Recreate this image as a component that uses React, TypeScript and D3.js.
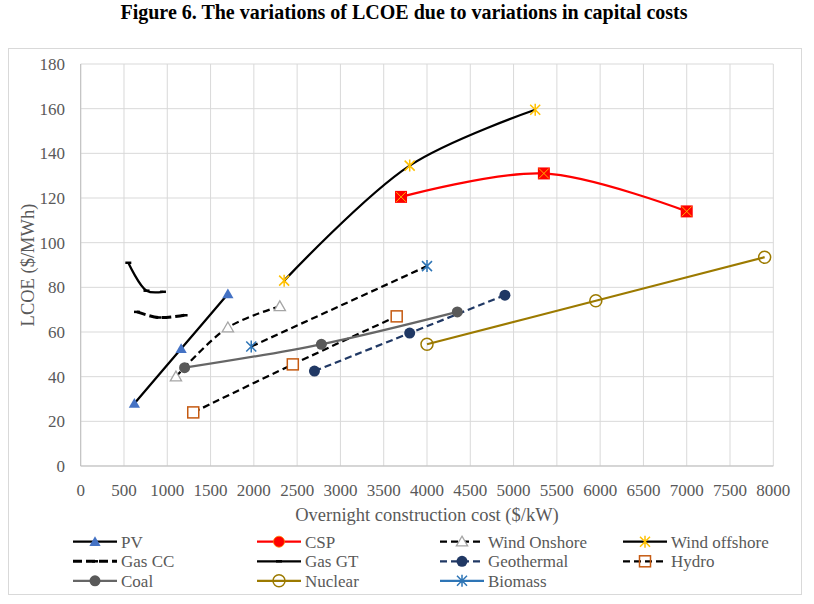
import * as d3 from 'd3'

// values: overnight cost ($/kW) vs LCOE ($/MWh)
const PV_COST = [620, 1160, 1700]
const PV_LCOE = [28, 52.5, 77]
const CSP_COST = [3700, 5350, 7000]
const CSP_LCOE = [120.5, 131, 114]
const WIND_ON_COST = [1100, 1700, 2300]
const WIND_ON_LCOE = [40, 62, 71.5]
const WIND_OFF_COST = [2350, 3800, 5250]
const WIND_OFF_LCOE = [83, 134.5, 159.5]
const GAS_CC_COST = [650, 900, 1200]
const GAS_CC_LCOE = [69, 66.5, 67.5]
const GAS_GT_COST = [550, 760, 950]
const GAS_GT_LCOE = [91, 78.5, 78]
const GEO_COST = [2700, 3800, 4900]
const GEO_LCOE = [42.5, 59.5, 76.5]
const HYDRO_COST = [1300, 2450, 3650]
const HYDRO_LCOE = [24, 45.5, 67]
const COAL_COST = [1200, 2780, 4350]
const COAL_LCOE = [44, 54.5, 69]
const NUC_COST = [4000, 5950, 7900]
const NUC_LCOE = [54.5, 74, 93.5]
const BIO_COST = [1970, 4000]
const BIO_LCOE = [53.5, 89.5]

const X_TICKS = d3.range(0, 8001, 500)
const Y_TICKS = d3.range(0, 181, 20)

type Marker = 'triangle' | 'openTriangle' | 'csp' | 'star' | 'dash' | 'dot' | 'openSquare' | 'openCircle'

interface Series {
  name: string
  cost: number[]
  lcoe: number[]
  stroke: string
  dash?: string
  width: number
  marker: Marker
  mColor: string
  legendStroke?: string
  legendDash?: string
}

const SERIES: Series[] = [
  { name: 'PV', cost: PV_COST, lcoe: PV_LCOE, stroke: '#000', width: 2.25, marker: 'triangle', mColor: '#4472C4' },
  { name: 'CSP', cost: CSP_COST, lcoe: CSP_LCOE, stroke: '#FF0000', width: 2.25, marker: 'csp', mColor: '#FF0000' },
  { name: 'Wind Onshore', cost: WIND_ON_COST, lcoe: WIND_ON_LCOE, stroke: '#000', dash: '7,4', width: 2.25, marker: 'openTriangle', mColor: '#A5A5A5' },
  { name: 'Wind offshore', cost: WIND_OFF_COST, lcoe: WIND_OFF_LCOE, stroke: '#000', width: 2.25, marker: 'star', mColor: '#FFC000' },
  { name: 'Gas CC', cost: GAS_CC_COST, lcoe: GAS_CC_LCOE, stroke: '#000', dash: '9,4', width: 3, marker: 'dash', mColor: '#000' },
  { name: 'Gas GT', cost: GAS_GT_COST, lcoe: GAS_GT_LCOE, stroke: '#000', width: 2.25, marker: 'dash', mColor: '#000' },
  { name: 'Geothermal', cost: GEO_COST, lcoe: GEO_LCOE, stroke: '#203864', dash: '7,4', width: 2.25, marker: 'dot', mColor: '#203864' },
  { name: 'Hydro', cost: HYDRO_COST, lcoe: HYDRO_LCOE, stroke: '#000', dash: '7,4', width: 2.25, marker: 'openSquare', mColor: '#C55A11' },
  { name: 'Coal', cost: COAL_COST, lcoe: COAL_LCOE, stroke: '#666666', width: 2.25, marker: 'dot', mColor: '#595959' },
  { name: 'Nuclear', cost: NUC_COST, lcoe: NUC_LCOE, stroke: '#9C7A00', width: 2.25, marker: 'openCircle', mColor: '#9C7A00' },
  { name: 'Biomass', cost: BIO_COST, lcoe: BIO_LCOE, stroke: '#000', dash: '7,4', width: 2.25, marker: 'star', mColor: '#2E75B6', legendStroke: '#2E75B6', legendDash: 'none' },
]

const FONT = "'Liberation Serif', 'Times New Roman', serif"
const TXT = '#595959'

function MarkerShape({ kind, x, y, color, legend }: { kind: Marker; x: number; y: number; color: string; legend?: boolean }) {
  switch (kind) {
    case 'triangle':
      return <path d={d3.symbol(d3.symbolTriangle, 55)()!} transform={`translate(${x},${y + 1})`} fill={color} />
    case 'openTriangle':
      return <path d={d3.symbol(d3.symbolTriangle, 55)()!} transform={`translate(${x},${y + 1})`} fill="#fff" stroke={color} strokeWidth={1.3} />
    case 'csp':
      if (legend) return <circle cx={x} cy={y} r={5.5} fill={color} stroke="#FF8000" strokeWidth={0.8} />
      return (
        <g>
          <rect x={x - 6} y={y - 6} width={12} height={12} fill={color} />
          <path d={`M${x - 5},${y - 5}L${x + 5},${y + 5}M${x - 5},${y + 5}L${x + 5},${y - 5}`} stroke="#FFB000" strokeWidth={1} />
        </g>
      )
    case 'star': {
      const r = 5
      return (
        <path
          d={`M${x - r},${y - r}L${x + r},${y + r}M${x - r},${y + r}L${x + r},${y - r}M${x},${y - r - 1}L${x},${y + r + 1}`}
          stroke={color}
          strokeWidth={1.5}
        />
      )
    }
    case 'dash':
      return <path d={`M${x - 3},${y}L${x + 3},${y}`} stroke={color} strokeWidth={2.5} />
    case 'dot':
      return <circle cx={x} cy={y} r={5.5} fill={color} />
    case 'openSquare':
      return <rect x={x - 5.5} y={y - 5.5} width={11} height={11} fill={legend ? 'none' : '#fff'} stroke={color} strokeWidth={1.5} />
    case 'openCircle':
      return <circle cx={x} cy={y} r={6} fill="none" stroke={color} strokeWidth={1.5} />
  }
}

export default function App() {
  const W = 814
  const H = 604
  const plot = { left: 80.7, right: 773.3, top: 64, bottom: 466 }

  const x = d3.scaleLinear().domain([0, 8000]).range([plot.left, plot.right])
  const y = d3.scaleLinear().domain([0, 180]).range([plot.bottom, plot.top])

  const line = d3
    .line<[number, number]>()
    .x(d => x(d[0]))
    .y(d => y(d[1]))
    .curve(d3.curveCatmullRom.alpha(0.5))

  const legendCols = [73, 257, 440, 623]
  const legendRows = [541.7, 561.3, 580.8]

  return (
    <svg width={W} height={H} style={{ position: 'absolute', left: 0, top: 0, fontFamily: FONT }}>
      <rect width={W} height={H} fill="#fff" />
      <text x={404} y={19} textAnchor="middle" fontSize={20} fontWeight="bold" fill="#000" fontFamily={FONT}>
        Figure 6. The variations of LCOE due to variations in capital costs
      </text>
      <rect x={8.5} y={48.5} width={793} height={546} fill="#fff" stroke="#d9d9d9" />

      {/* grid */}
      {Y_TICKS.map(t => (
        <line key={'gy' + t} x1={plot.left} x2={plot.right} y1={y(t)} y2={y(t)} stroke="#d9d9d9" strokeWidth={1} />
      ))}
      {X_TICKS.map(t => (
        <line key={'gx' + t} x1={x(t)} x2={x(t)} y1={plot.top} y2={plot.bottom} stroke="#d9d9d9" strokeWidth={1} />
      ))}
      <line x1={plot.left} x2={plot.left} y1={plot.top} y2={plot.bottom} stroke="#bfbfbf" />
      <line x1={plot.left} x2={plot.right} y1={plot.bottom} y2={plot.bottom} stroke="#bfbfbf" />

      {/* tick labels */}
      {Y_TICKS.map(t => (
        <text key={'ty' + t} x={65} y={y(t)} dy="0.35em" textAnchor="end" fontSize={17} fill={TXT} fontFamily={FONT}>
          {t}
        </text>
      ))}
      {X_TICKS.map(t => (
        <text key={'tx' + t} x={x(t)} y={496} textAnchor="middle" fontSize={17} fill={TXT} fontFamily={FONT}>
          {t}
        </text>
      ))}

      <text transform={`translate(34,${(plot.top + plot.bottom) / 2}) rotate(-90)`} textAnchor="middle" fontSize={18.5} fill={TXT} fontFamily={FONT}>
        LCOE ($/MWh)
      </text>
      <text x={427} y={521} textAnchor="middle" fontSize={18.5} fill={TXT} fontFamily={FONT}>
        Overnight construction cost ($/kW)
      </text>

      {/* series */}
      {SERIES.map(s => {
        const pts = s.cost.map((c, i) => [c, s.lcoe[i]] as [number, number])
        return (
          <g key={s.name}>
            <path d={line(pts)!} fill="none" stroke={s.stroke} strokeWidth={s.width} strokeDasharray={s.dash} />
            {pts.map((p, i) => (
              <MarkerShape key={i} kind={s.marker} x={x(p[0])} y={y(p[1])} color={s.mColor} />
            ))}
          </g>
        )
      })}

      {/* legend */}
      {SERIES.map((s, i) => {
        const lx = legendCols[i % 4]
        const ly = legendRows[Math.floor(i / 4)]
        const dash = s.legendDash ?? s.dash
        return (
          <g key={'lg' + s.name}>
            <line
              x1={lx}
              x2={lx + 44}
              y1={ly}
              y2={ly}
              stroke={s.legendStroke ?? s.stroke}
              strokeWidth={s.width}
              strokeDasharray={dash === 'none' ? undefined : dash}
            />
            <MarkerShape kind={s.marker} x={lx + 22} y={ly} color={s.mColor} legend />
            <text x={lx + 48} y={ly} dy="0.35em" fontSize={17} fill={TXT} fontFamily={FONT}>
              {s.name}
            </text>
          </g>
        )
      })}
    </svg>
  )
}
